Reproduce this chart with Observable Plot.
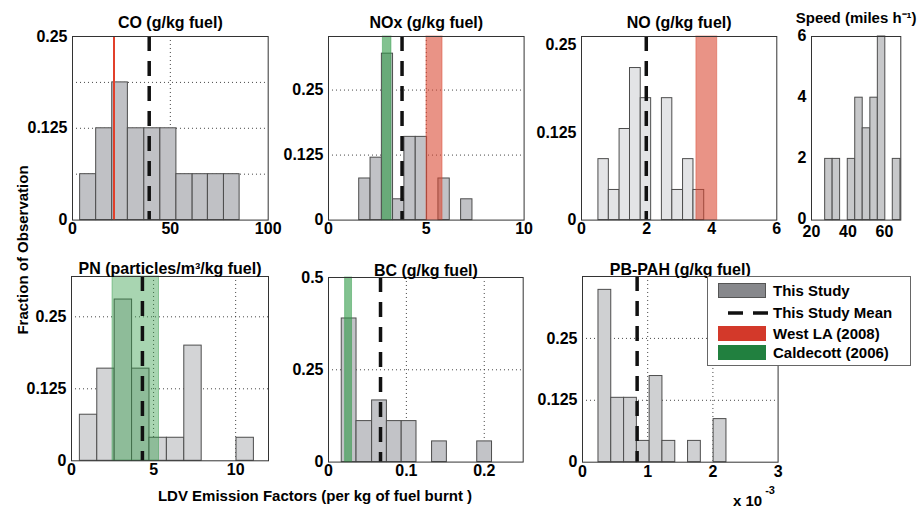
<!DOCTYPE html>
<html><head><meta charset="utf-8">
<script src="https://cdn.jsdelivr.net/npm/d3@7"></script>
<script src="https://cdn.jsdelivr.net/npm/@observablehq/plot@0.6"></script>
<style>
body{margin:0;background:#fff;}
#wrap{position:relative;width:920px;height:510px;overflow:hidden;font-family:"Liberation Sans",Arial,sans-serif;font-weight:bold;color:#000;}
.panel{position:absolute;}
.lbl{position:absolute;white-space:nowrap;font-size:15px;}
#legend{position:absolute;left:707px;top:276px;width:204px;height:90px;border:1px solid #666;background:#fff;box-sizing:border-box;}
.row{position:absolute;left:0;height:20px;width:200px;}
.sw{position:absolute;left:10px;top:2px;width:48px;height:15px;}
.tx{position:absolute;left:65px;top:0;font-size:15px;line-height:20px;white-space:nowrap;}
</style></head><body><div id="wrap"></div>
<script>
// ---- data ----
const CO_edges = [3.9, 12.1, 20.3, 28.3, 36.7, 44.9, 53.1, 61.4, 69.2, 77.4, 85.4];
const CO_frac  = [0.0625, 0.125, 0.1875, 0.125, 0.125, 0.125, 0.0625, 0.0625, 0.0625, 0.0625];
const CO_mean = 39.2, CO_westLA = 21.2;

const NOx_edges = [1.57, 2.15, 2.73, 3.30, 3.88, 4.46, 5.04, 5.62, 6.20, 6.78, 7.36];
const NOx_frac  = [0.08, 0.12, 0.32, 0.04, 0.16, 0.16, 0, 0.08, 0, 0.04];
const NOx_mean = 3.76, NOx_westLA = [5.01, 5.83], NOx_caldecott = [2.78, 3.22];

const NO_edges = [0.52, 0.84, 1.17, 1.49, 1.82, 2.14, 2.47, 2.79, 3.12, 3.44, 3.77];
const NO_frac  = [0.087, 0.043, 0.130, 0.217, 0.174, 0, 0.174, 0.043, 0.087, 0.043];
const NO_mean = 1.99, NO_westLA = [3.53, 4.17];

const Speed_edges = [27.5, 31.6, 35.7, 39.9, 44.0, 48.1, 52.3, 56.4, 60.5, 64.6, 68.8];
const Speed_count = [2, 2, 0, 2, 4, 3, 4, 6, 0, 2];

const PN_edges = [0.51, 1.57, 2.63, 3.69, 4.75, 5.81, 6.87, 7.93, 8.99, 10.05, 11.11];
const PN_frac  = [0.08, 0.16, 0.28, 0.16, 0.04, 0.04, 0.20, 0, 0, 0.04];
const PN_mean = 4.32, PN_caldecott = [2.5, 5.33];

const BC_edges = [0.017, 0.036, 0.056, 0.075, 0.094, 0.113, 0.133, 0.152, 0.171, 0.191, 0.210];
const BC_frac  = [0.389, 0.111, 0.167, 0.111, 0.111, 0, 0.056, 0, 0, 0.056];
const BC_mean = 0.0668, BC_caldecott = [0.0213, 0.0302];

const PAH_edges = [0.245, 0.441, 0.638, 0.834, 1.03, 1.226, 1.423, 1.619, 1.815, 2.011, 2.208]; // x 10^-3
const PAH_frac  = [0.348, 0.130, 0.130, 0.043, 0.174, 0.043, 0, 0.043, 0, 0.087];
const PAH_mean = 0.838;

const legendItems = ["This Study", "This Study Mean", "West LA (2008)", "Caldecott (2006)"];

// ---- styles ----
const RED = "#d9452f", GREEN = "#2f9a46";
const ML = 50, MR = 14, MT = 34, MB = 30;
const wrap = document.getElementById("wrap");

function makePanel(p) {
  const [L, T, R, B] = p.frame;
  const bins = p.values.map((v, i) => ({x1: p.edges[i], x2: p.edges[i + 1], y0: 0, y: v})).filter(d => d.y > 0);
  const marks = [];
  const gridStyle = {stroke: "#222", strokeOpacity: 0.85, strokeDasharray: "1,3", strokeWidth: 1};
  if (p.gridY) marks.push(Plot.gridY({ticks: p.gridY, ...gridStyle}));
  if (p.gridX) marks.push(Plot.gridX({ticks: p.gridX, ...gridStyle}));
  marks.push(Plot.rect(bins, {x1: "x1", x2: "x2", y1: "y0", y2: "y", fill: p.fill, stroke: "#4d4d4d", strokeWidth: 1}));
  (p.bands || []).forEach(b => {
    marks.push(Plot.rect([{a: b.range[0], b: b.range[1]}], {x1: "a", x2: "b", fill: b.color, fillOpacity: b.opacity, stroke: b.color, strokeOpacity: 0.45}));
  });
  (p.lines || []).forEach(l => marks.push(Plot.ruleX([l.x], {stroke: l.color, strokeWidth: 2})));
  if (p.mean != null) marks.push(Plot.ruleX([p.mean], {y1: p.yDomain[1], y2: p.yDomain[0], stroke: "#111", strokeWidth: 3.5, strokeDasharray: "15,10"}));
  marks.push(Plot.frame({stroke: "#333", strokeWidth: 1}));
  marks.push(Plot.axisX({ticks: p.xTicks, tickSize: 0, tickPadding: p.xPad ?? 3, tickFormat: d => String(d), fontSize: 16, label: null}));
  marks.push(Plot.axisY({ticks: p.yTicks, tickSize: 0, tickPadding: 5, dy: p.yDy ?? 0, tickFormat: d => String(d), fontSize: 16, label: null}));
  marks.push(Plot.text([p.title], {frameAnchor: "top", dy: p.titleDy, fontSize: p.titleSize ?? 16, fontWeight: "bold", fill: "#000"}));
  const svg = Plot.plot({
    width: (R - L) + ML + MR,
    height: (B - T) + MT + MB,
    marginLeft: ML, marginRight: MR, marginTop: MT, marginBottom: MB,
    x: {domain: p.xDomain, label: null},
    y: {domain: p.yDomain, label: null},
    style: {background: "transparent", overflow: "visible", fontFamily: "'Liberation Sans', Arial, sans-serif", fontWeight: "bold", color: "#000"},
    marks
  });
  const div = document.createElement("div");
  div.className = "panel";
  div.style.left = (L - ML) + "px";
  div.style.top = (T - MT) + "px";
  div.appendChild(svg);
  wrap.appendChild(div);
}

makePanel({title: "CO (g/kg fuel)", frame: [72.3, 35.7, 268, 219.3], titleDy: -20,
  edges: CO_edges, values: CO_frac, fill: "#c0c1c5",
  xDomain: [0, 100], yDomain: [0, 0.25], xTicks: [0, 50, 100], yTicks: [0, 0.125, 0.25],
  gridX: [50], gridY: [0.0625, 0.125, 0.1875], mean: CO_mean,
  lines: [{x: CO_westLA, color: "#e2402b"}]});

makePanel({title: "NOx (g/kg fuel)", frame: [327.7, 35.7, 523.3, 219.3], titleDy: -20,
  edges: NOx_edges, values: NOx_frac, fill: "#c1c2c6",
  xDomain: [0, 10], yDomain: [0, 0.353], xTicks: [0, 5, 10], yTicks: [0, 0.125, 0.25],
  gridX: [5], gridY: [0.125, 0.25], mean: NOx_mean,
  bands: [{range: NOx_caldecott, color: GREEN, opacity: 0.6}, {range: NOx_westLA, color: RED, opacity: 0.58}]});

makePanel({title: "NO (g/kg fuel)", frame: [580.7, 35.7, 776, 219.3], titleDy: -20,
  edges: NO_edges, values: NO_frac, fill: "#e3e4e6",
  xDomain: [0, 6], yDomain: [0, 0.262], xTicks: [0, 2, 4, 6], yTicks: [0, 0.125, 0.25],
  mean: NO_mean,
  bands: [{range: NO_westLA, color: RED, opacity: 0.58}]});

makePanel({title: "Speed (miles h\u207B\u00B9)", frame: [810.7, 35.7, 900, 219.3], titleDy: -24, titleSize: 15,
  edges: Speed_edges, values: Speed_count, fill: "#c7c8ca",
  xDomain: [20, 69], yDomain: [0, 6], xTicks: [20, 40, 60], yTicks: [0, 2, 4, 6],
  xPad: 6, yDy: -1});

makePanel({title: "PN (particles/m\u00B3/kg fuel)", frame: [70.7, 275.7, 267.7, 460], titleDy: -14,
  edges: PN_edges, values: PN_frac, fill: "#d3d4d6",
  xDomain: [0, 12], yDomain: [0, 0.32], xTicks: [0, 5, 10], yTicks: [0, 0.125, 0.25],
  gridX: [5, 10], gridY: [0.125, 0.25], mean: PN_mean,
  bands: [{range: PN_caldecott, color: GREEN, opacity: 0.42}]});

makePanel({title: "BC (g/kg fuel)", frame: [328.3, 276.7, 523, 461.3], titleDy: -13,
  edges: BC_edges, values: BC_frac, fill: "#c2c3c7",
  xDomain: [0, 0.25], yDomain: [0, 0.5], xTicks: [0, 0.1, 0.2], yTicks: [0, 0.25, 0.5],
  gridX: [0.1, 0.2], gridY: [0.25], mean: BC_mean,
  bands: [{range: BC_caldecott, color: GREEN, opacity: 0.6}]});

makePanel({title: "PB-PAH (g/kg fuel)", frame: [581.7, 276, 777.3, 461.7], titleDy: -13,
  edges: PAH_edges, values: PAH_frac, fill: "#cfd0d2",
  xDomain: [0, 3], yDomain: [0, 0.375], xTicks: [0, 1, 2, 3], yTicks: [0, 0.125, 0.25],
  gridX: [1, 2], gridY: [0.125, 0.25], mean: PAH_mean});

// ---- legend ----
const leg = document.createElement("div");
leg.id = "legend";
const legTops = [4, 26, 47, 66];
legendItems.forEach((name, i) => {
  const row = document.createElement("div");
  row.className = "row";
  row.style.top = legTops[i] + "px";
  let sw;
  if (i === 1) {
    sw = `<svg class="sw" width="48" height="15" style="overflow:visible"><line x1="10" x2="50" y1="8" y2="8" stroke="#111" stroke-width="3.5" stroke-dasharray="15,10"/></svg>`;
  } else {
    const c = i === 0 ? "#87888c" : i === 2 ? "#d3392a" : "#21803f";
    const b = i === 0 ? "border:1px solid #555;box-sizing:border-box;" : "";
    sw = `<div class="sw" style="background:${c};${b}"></div>`;
  }
  row.innerHTML = sw + `<div class="tx">${name}</div>`;
  leg.appendChild(row);
});
wrap.appendChild(leg);

// ---- shared labels ----
const yl = document.createElement("div");
yl.className = "lbl";
yl.textContent = "Fraction of Observation";
yl.style.left = "22px"; yl.style.top = "250px";
yl.style.transform = "translate(-50%,-50%) rotate(-90deg)";
wrap.appendChild(yl);

const xl = document.createElement("div");
xl.className = "lbl";
xl.textContent = "LDV Emission Factors (per kg of fuel burnt )";
xl.style.left = "315px"; xl.style.top = "495px";
xl.style.transform = "translate(-50%,-50%)";
wrap.appendChild(xl);

const ex = document.createElement("div");
ex.className = "lbl";
ex.innerHTML = `x 10<span style="position:relative;top:-12px;font-size:11px;margin-left:3px">-3</span>`;
ex.style.left = "733px"; ex.style.top = "492px";
wrap.appendChild(ex);
</script>
</body></html>
